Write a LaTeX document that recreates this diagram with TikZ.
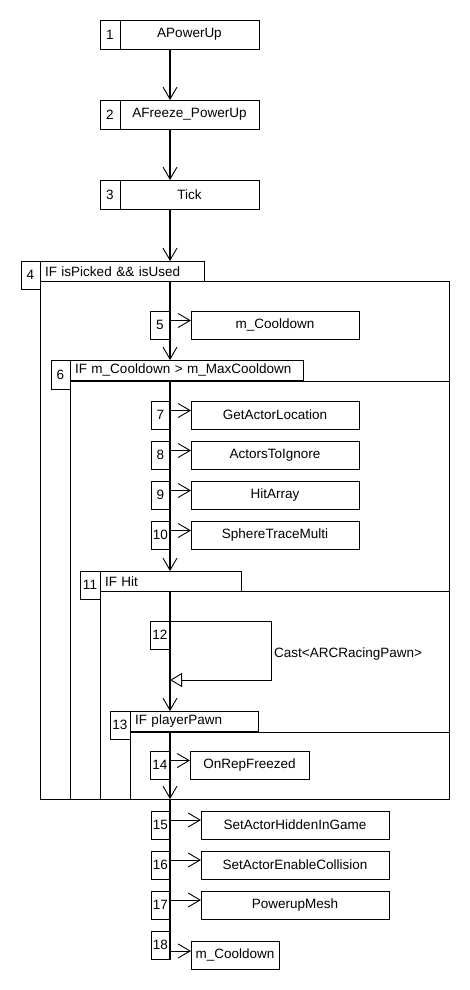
\documentclass[tikz,border=0pt]{standalone}
\usepackage{fontspec}
\setmainfont{Liberation Sans}
\usetikzlibrary{arrows.meta,calc}
\begin{document}
\begin{tikzpicture}[x=1pt,y=-1pt,
  every node/.style={font=\fontsize{13.5}{15}\selectfont},
  bx/.style={draw, line width=0.9pt, inner sep=0pt, outer sep=0pt, anchor=north west, minimum height=28pt},
  tab/.style={bx, minimum height=20.5pt, inner xsep=5pt, align=left},
  frm/.style={draw, line width=0.9pt, inner sep=0pt, outer sep=0pt, anchor=north west},
  life/.style={line width=1.2pt},
  arr/.style={-{Straight Barb[length=12pt,width=14pt,line width=0.9pt]}},
  side/.style={line width=0.9pt, -{Straight Barb[length=12pt,width=14pt,line width=0.9pt]}},
  selfarr/.style={line width=0.9pt, -{Triangle[open,length=12pt,width=14pt,line width=0.9pt]}}]
\useasboundingbox[fill=white] (0,0) rectangle (470,990);
\coordinate (ll) at (170,0);

% frames
\node[frm, minimum width=409pt, minimum height=518pt] (f4) at (40,281) {};
\node[frm, minimum width=379pt, minimum height=418pt] (f6) at (70,381) {};
\node[frm, minimum width=349pt, minimum height=208pt] (f11) at (100,591) {};
\node[frm, minimum width=319pt, minimum height=67pt] (f13) at (130,732) {};

% boxes 1-3
\node[bx, minimum width=20pt, minimum height=29pt] (n1) at (100,20) {1};
\node[bx, minimum width=139pt, minimum height=29pt] (m1) at (120,20) {APowerUp};
\node[bx, minimum width=20pt, minimum height=29pt] (n2) at (100,100) {2};
\node[bx, minimum width=139pt, minimum height=29pt] (m2) at (120,100) {AFreeze\_PowerUp};
\node[bx, minimum width=20pt, minimum height=29pt] (n3) at (100,180) {3};
\node[bx, minimum width=139pt, minimum height=29pt] (m3) at (120,180) {Tick};

% frame 4
\node[bx, minimum width=19pt] (n4) at (21,261) {4};
\node[tab, text width=154pt] (t4) at (40,261) {IF isPicked \&\& isUsed};
\node[bx, minimum width=20pt] (n5) at (150,311) {5};
\node[bx, minimum width=168pt] (m5) at (191,311) {m\_Cooldown};

% frame 6
\node[bx, minimum width=19pt, minimum height=29pt] (n6) at (51,360) {6};
\node[tab, text width=223pt] (t6) at (70,360) {IF m\_Cooldown > m\_MaxCooldown};
\node[bx, minimum width=19pt] (n7) at (151,401) {7};
\node[bx, minimum width=168pt] (m7) at (191,401) {GetActorLocation};
\node[bx, minimum width=19pt] (n8) at (151,441) {8};
\node[bx, minimum width=168pt] (m8) at (191,441) {ActorsToIgnore};
\node[bx, minimum width=19pt] (n9) at (151,481) {9};
\node[bx, minimum width=168pt] (m9) at (191,481) {HitArray};
\node[bx, minimum width=19pt] (n10) at (151,521) {10};
\node[bx, minimum width=168pt] (m10) at (191,521) {SphereTraceMulti};

% frame 11
\node[bx, minimum width=20pt] (n11) at (80,571) {11};
\node[tab, text width=131pt] (t11) at (100,571) {IF Hit};
\node[bx, minimum width=20pt] (n12) at (150,621) {12};
\node[anchor=west, inner sep=0pt] (c12) at (274,654) {Cast<ARCRacingPawn>};
\coordinate (loopR) at (271,680);

% frame 13
\node[bx, minimum width=20pt] (n13) at (110,711) {13};
\node[tab, text width=118pt] (t13) at (130,711) {IF playerPawn};
\node[bx, minimum width=20pt] (n14) at (150,751) {14};
\node[bx, minimum width=119pt] (m14) at (190,751) {OnRepFreezed};

% after
\node[bx, minimum width=19pt] (n15) at (151,811) {15};
\node[bx, minimum width=188pt] (m15) at (201,811) {SetActorHiddenInGame};
\node[bx, minimum width=19pt] (n16) at (151,851) {16};
\node[bx, minimum width=188pt] (m16) at (201,851) {SetActorEnableCollision};
\node[bx, minimum width=19pt] (n17) at (151,891) {17};
\node[bx, minimum width=188pt] (m17) at (201,891) {PowerupMesh};
\node[bx, minimum width=19pt] (n18) at (151,931) {18};
\node[bx, minimum width=88pt] (m18) at (191,941) {m\_Cooldown};

% lifeline
\draw[life, arr] (m1.south -| ll) -- (m2.north -| ll);
\draw[life, arr] (m2.south -| ll) -- (m3.north -| ll);
\draw[life, arr] (m3.south -| ll) -- (t4.north -| ll);
\draw[life, arr] (t4.south -| ll) -- (t6.north -| ll);
\draw[life, arr] (t6.south -| ll) -- (t11.north -| ll);
\draw[life, arr] (t11.south -| ll) -- (t13.north -| ll);
\draw[life, arr] (t13.south -| ll) -- (f13.south -| ll);
\draw[life] (f13.south -| ll) -- (n18.south -| ll);

% side messages
\draw[side] ($(n5.north east)+(0,9.5)$) -- ($(m5.north west)+(0,9.5)$);
\draw[side] ($(n7.north east)+(0,9.5)$) -- ($(m7.north west)+(0,9.5)$);
\draw[side] ($(n8.north east)+(0,9.5)$) -- ($(m8.north west)+(0,9.5)$);
\draw[side] ($(n9.north east)+(0,9.5)$) -- ($(m9.north west)+(0,9.5)$);
\draw[side] ($(n10.north east)+(0,9.5)$) -- ($(m10.north west)+(0,9.5)$);
\draw[side] ($(n14.north east)+(0,9.5)$) -- ($(m14.north west)+(0,9.5)$);
\draw[side] ($(n15.north east)+(0,9)$) -- ($(m15.north west)+(0,9)$);
\draw[side] ($(n16.north east)+(0,9)$) -- ($(m16.north west)+(0,9)$);
\draw[side] ($(n17.north east)+(0,9)$) -- ($(m17.north west)+(0,9)$);
\draw[side] ($(m18.north west -| n18.east)+(0,10)$) -- ($(m18.north west)+(0,10)$);

% self message
\draw[selfarr] (n12.north east) -| (loopR) -- (loopR -| n12.east);
\end{tikzpicture}
\end{document}
